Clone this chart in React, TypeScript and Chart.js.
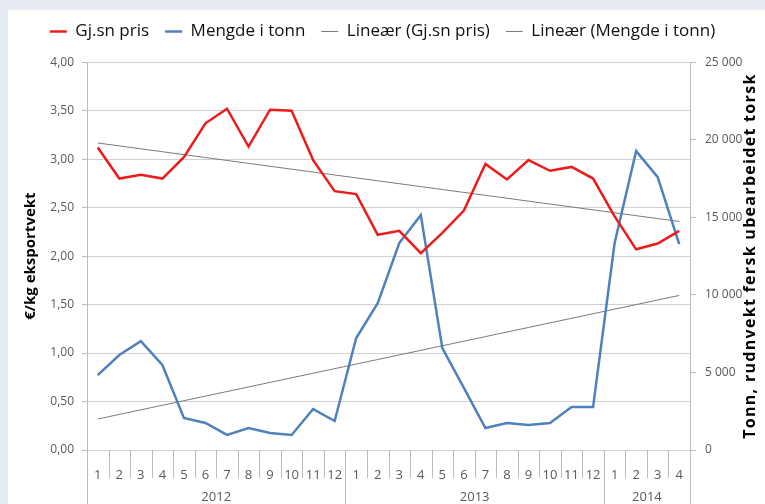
import React, { useEffect, useRef } from "react";
import { Chart, registerables } from "chart.js";

Chart.register(...registerables);

const years = ["2012", "2013", "2014"];
const monthsPerYear = [12, 12, 4];
const monthLabels = [
  "1", "2", "3", "4", "5", "6", "7", "8", "9", "10", "11", "12",
  "1", "2", "3", "4", "5", "6", "7", "8", "9", "10", "11", "12",
  "1", "2", "3", "4",
];
const price = [
  3.12, 2.8, 2.84, 2.8, 3.02, 3.37, 3.52, 3.13, 3.51, 3.5, 2.99, 2.67,
  2.64, 2.22, 2.26, 2.03, 2.24, 2.47, 2.95, 2.79, 2.99, 2.88, 2.92, 2.8,
  2.41, 2.07, 2.13, 2.26,
];
const tonnes = [
  4830, 6120, 7020, 5480, 2060, 1740, 970, 1420, 1100, 970, 2640, 1870,
  7220, 9470, 13340, 15140, 6570, 4000, 1420, 1740, 1610, 1740, 2770, 2770,
  13340, 19270, 17590, 13270,
];
const leftTicks = [0, 0.5, 1, 1.5, 2, 2.5, 3, 3.5, 4];
const rightTicks = [0, 5000, 10000, 15000, 20000, 25000];

function linearTrend(values: number[]): number[] {
  const n = values.length;
  let sx = 0, sy = 0, sxx = 0, sxy = 0;
  values.forEach((v, i) => {
    const x = i + 1;
    sx += x; sy += v; sxx += x * x; sxy += x * v;
  });
  const b = (n * sxy - sx * sy) / (n * sxx - sx * sx);
  const a = (sy - b * sx) / n;
  return values.map((_, i) => a + b * (i + 1));
}

const FONT = "'Open Sans', 'DejaVu Sans', sans-serif";
const GRID = "#d0d0d0";
const AXIS = "#bcbcbc";
const TICK_COLOR = "#595959";

const extrasPlugin = {
  id: "extras",
  afterDraw(chart: any) {
    const ctx = chart.ctx;
    const xs = chart.scales.x;
    const area = chart.chartArea;
    const n = monthLabels.length;
    const yearStarts: number[] = [];
    let acc = 0;
    monthsPerYear.forEach((m) => { yearStarts.push(acc); acc += m; });
    yearStarts.push(acc);
    const boundary = (i: number) =>
      i === 0 ? area.left : i === n ? area.right
        : (xs.getPixelForValue(i - 1) + xs.getPixelForValue(i)) / 2;
    ctx.save();
    ctx.strokeStyle = AXIS;
    ctx.lineWidth = 1;
    for (let i = 0; i <= n; i++) {
      const isYear = yearStarts.includes(i);
      const px = Math.round(boundary(i)) + 0.5;
      ctx.beginPath();
      ctx.moveTo(px, area.bottom);
      ctx.lineTo(px, isYear ? chart.height : area.bottom + 28);
      ctx.stroke();
    }
    ctx.fillStyle = TICK_COLOR;
    ctx.font = `13px ${FONT}`;
    ctx.textAlign = "center";
    ctx.textBaseline = "middle";
    years.forEach((y, k) => {
      const cx = (boundary(yearStarts[k]) + boundary(yearStarts[k + 1])) / 2;
      ctx.fillText(y, cx, 497);
    });
    const cy = (area.top + area.bottom) / 2;
    ctx.fillStyle = "#000";
    ctx.save();
    ctx.font = `bold 15px ${FONT}`;
    ctx.translate(31, cy);
    ctx.rotate(-Math.PI / 2);
    ctx.fillText("€/kg eksportvekt", 0, 0);
    ctx.restore();
    ctx.save();
    ctx.font = `bold 16px ${FONT}`;
    (ctx as any).letterSpacing = "1.3px";
    ctx.translate(750, cy);
    ctx.rotate(-Math.PI / 2);
    ctx.fillText("Tonn, rudnvekt fersk ubearbeidet torsk", 0, 0);
    ctx.restore();
    ctx.restore();
  },
};

export default function App() {
  const ref = useRef<HTMLCanvasElement | null>(null);
  useEffect(() => {
    if (!ref.current) return;
    const chart = new Chart(ref.current, {
      type: "line",
      data: {
        labels: monthLabels,
        datasets: [
          {
            label: "Gj.sn pris",
            data: price,
            borderColor: "#ec1c1c",
            backgroundColor: "#ec1c1c",
            borderWidth: 2.5,
            pointRadius: 0,
            tension: 0,
            yAxisID: "y",
            order: 1,
          },
          {
            label: "Mengde i tonn",
            data: tonnes,
            borderColor: "#4f81bd",
            backgroundColor: "#4f81bd",
            borderWidth: 2.5,
            pointRadius: 0,
            tension: 0,
            yAxisID: "y1",
            order: 2,
          },
          {
            label: "Lineær (Gj.sn pris)",
            data: linearTrend(price),
            borderColor: "#7a7a7a",
            backgroundColor: "#7a7a7a",
            borderWidth: 1,
            pointRadius: 0,
            tension: 0,
            yAxisID: "y",
            order: 3,
          },
          {
            label: "Lineær (Mengde i tonn)",
            data: linearTrend(tonnes),
            borderColor: "#7a7a7a",
            backgroundColor: "#7a7a7a",
            borderWidth: 1,
            pointRadius: 0,
            tension: 0,
            yAxisID: "y1",
            order: 4,
          },
        ],
      },
      options: {
        animation: false,
        responsive: true,
        maintainAspectRatio: false,
        layout: { padding: { top: 7, left: 0, right: 0, bottom: 0 } },
        plugins: {
          tooltip: { enabled: false },
          title: { display: false },
          subtitle: {
            display: true,
            text: " ",
            position: "top",
            weight: 500,
            font: { size: 1 },
            padding: { top: 2, bottom: 9 },
          } as any,
          legend: {
            display: true,
            position: "top",
            labels: {
              usePointStyle: true,
              pointStyle: "line",
              pointStyleWidth: 17,
              color: "#111",
              font: { family: FONT, size: 17 },
              padding: 16,
            },
          },
        },
        scales: {
          x: {
            type: "category",
            offset: true,
            grid: { display: false },
            border: { display: false },
            ticks: {
              color: TICK_COLOR,
              font: { family: FONT, size: 13 },
              padding: 9,
              maxRotation: 0,
              autoSkip: false,
            },
            afterFit: (s: any) => { s.height = 54; },
          },
          y: {
            position: "left",
            min: 0,
            max: 4,
            afterBuildTicks: (s: any) => { s.ticks = leftTicks.map((v) => ({ value: v })); },
            grid: { color: GRID, tickLength: 5, tickColor: AXIS },
            border: { display: true, color: AXIS },
            ticks: {
              color: TICK_COLOR,
              font: { family: FONT, size: 12 },
              padding: 8,
              callback: (v: any) => Number(v).toFixed(2).replace(".", ","),
            },
            afterFit: (s: any) => { s.width = 87; },
          },
          y1: {
            position: "right",
            min: 0,
            max: 25000,
            afterBuildTicks: (s: any) => { s.ticks = rightTicks.map((v) => ({ value: v })); },
            grid: { drawOnChartArea: false, tickLength: 6, color: AXIS },
            border: { display: true, color: AXIS },
            ticks: {
              color: TICK_COLOR,
              font: { family: FONT, size: 12 },
              padding: 9,
              callback: (v: any) => {
                const num = Number(v);
                return num >= 1000 ? `${Math.floor(num / 1000)} ${String(num % 1000).padStart(3, "0")}` : String(num);
              },
            },
            afterFit: (s: any) => { s.width = 75; },
          },
        },
      },
      plugins: [extrasPlugin],
    });
    return () => chart.destroy();
  }, []);

  return (
    <div style={{ position: "absolute", left: 0, top: 0, width: 765, height: 504, background: "#e6ecf2" }}>
      <div style={{ position: "absolute", left: 8, top: 10, right: 0, bottom: 0, background: "#ffffff" }} />
      <div style={{ position: "absolute", left: 0, top: 0, width: 765, height: 504 }}>
        <canvas ref={ref} />
      </div>
    </div>
  );
}
